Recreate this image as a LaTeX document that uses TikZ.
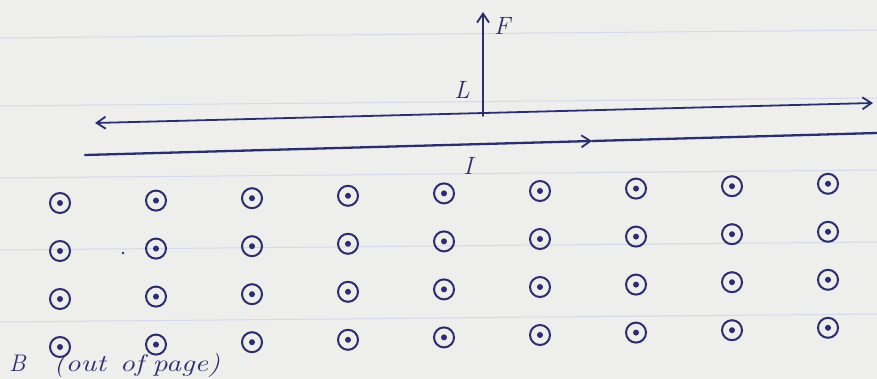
\documentclass[tikz,border=0pt]{standalone}
\usetikzlibrary{arrows.meta}
\definecolor{ink}{RGB}{42,46,112}
\definecolor{paper}{RGB}{238,238,236}
\definecolor{rule}{RGB}{212,216,234}
\begin{document}
\begin{tikzpicture}[x=1pt,y=-1pt,
  inkline/.style={draw=ink,line width=2.3pt,line cap=round},
  thinline/.style={draw=ink,line width=1.8pt,line cap=round},
  barb/.tip={Straight Barb[length=9pt,width=12pt,line width=1.8pt]},
  tip/.style={-barb},
  dotc/.style={circle,draw=ink,line width=2pt,minimum size=20pt,inner sep=0pt,
    path picture={\fill[ink] (path picture bounding box.center) circle (3pt);}},
  lbl/.style={text=ink,font=\fontsize{25}{28}\selectfont\itshape,inner sep=0pt},
  note/.style={text=ink,font=\fontsize{24}{26}\selectfont\itshape,inner sep=0pt}]
\fill[paper] (0,0) rectangle (877,379);
\useasboundingbox (0,0) rectangle (877,379);
% faint ruled lines of the paper
\foreach \y in {34,102,174,246,318}
  \draw[rule,line width=1pt] (0,\y+4) -- (877,\y-4);
% lines
\coordinate (Lleft) at (95,123);
\coordinate (Lright) at (873,103);
\coordinate (Ileft) at (85,155);
\coordinate (Imid) at (592,141);
\coordinate (Iright) at (877,133);
\coordinate (Fbase) at (483,116);
\coordinate (Ftop) at (483,12);
\draw[thinline,barb-barb] (Lleft) -- (Lright);
\draw[inkline,tip] (Ileft) -- (Imid);
\draw[inkline] (Imid) -- (Iright);
\draw[thinline,tip] (Fbase) -- (Ftop);
% labels
\node[lbl] (F) at (502,26) {F};
\node[lbl] (L) at (462,90) {L};
\node[lbl] (I) at (468,166) {I};
\node[note,anchor=base west] (B) at (9,371) {B\hspace{28pt}\scalebox{1.25}[1]{(out\hspace{11pt}of\hspace{7pt}page)}};
% field dots
\foreach \i in {0,...,8}
  \foreach \j in {0,...,3}
    \node[dotc] (d\i\j) at ({60+96*\i},{203+48*\j-2.4*\i}) {};
\fill[ink] (123,253) circle (1.4pt);
\end{tikzpicture}
\end{document}
